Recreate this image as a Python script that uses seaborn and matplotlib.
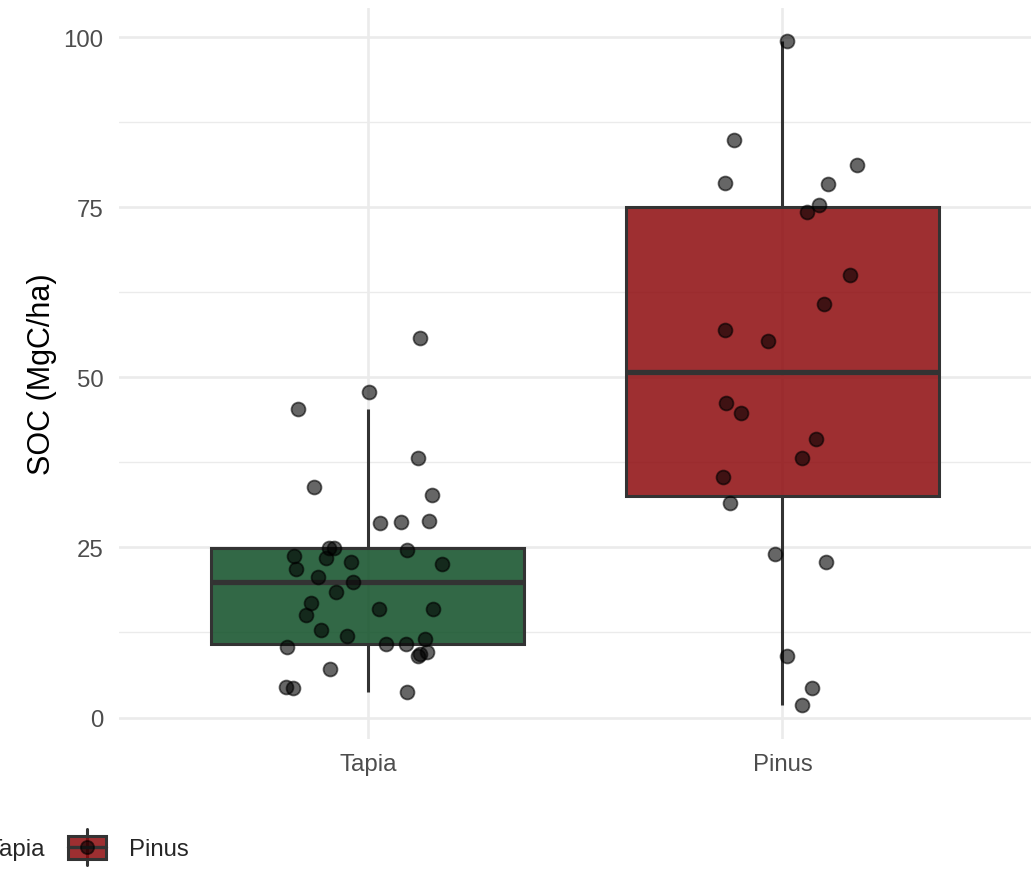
import numpy as np
import pandas as pd
import matplotlib
matplotlib.use("Agg")
import matplotlib.pyplot as plt
import seaborn as sns
from matplotlib.ticker import MultipleLocator
from matplotlib.legend_handler import HandlerBase
from matplotlib.lines import Line2D
from matplotlib.patches import Rectangle, Patch

# ---------------- data ----------------
groups = ["Tapia", "Pinus"]

tapia_soc = [55.75, 47.8, 45.3, 38.2, 33.9, 32.7, 28.6, 28.8, 28.9, 24.9,
             24.9, 23.7, 23.5, 22.9, 24.6, 22.5, 21.8, 20.7, 19.9, 18.4,
             16.8, 15.1, 15.9, 16.0, 12.8, 12.0, 10.3, 10.8, 10.8, 11.6,
             9.1, 9.6, 9.3, 7.2, 4.5, 4.3, 3.8]
tapia_jitter = [0.126, 0.002, -0.169, 0.121, -0.130, 0.155, 0.029, 0.080, 0.147, -0.094,
                -0.082, -0.179, -0.101, -0.041, 0.094, 0.179, -0.174, -0.121, -0.036, -0.077,
                -0.138, -0.150, 0.027, 0.157, -0.114, -0.051, -0.196, 0.043, 0.092, 0.138,
                0.121, 0.143, 0.126, -0.092, -0.198, -0.181, 0.094]

pinus_soc = [99.5, 84.9, 78.6, 81.3, 78.4, 75.4, 74.3, 65.0, 60.8, 57.0, 55.3,
             46.3, 44.8, 40.9, 38.2, 35.3, 31.6, 24.1, 22.8, 9.0, 4.4, 1.8]
pinus_jitter = [0.012, -0.118, -0.138, 0.179, 0.109, 0.089, 0.058, 0.162, 0.099, -0.138, -0.034,
                -0.135, -0.101, 0.082, 0.046, -0.143, -0.126, -0.017, 0.104, 0.012, 0.072, 0.048]

y_label = "SOC (MgC/ha)"
y_ticks = [0, 25, 50, 75, 100]

colors = {"Tapia": "#0E4E25", "Pinus": "#8D0A0D"}
box_alpha = 0.85
edge = "#333333"

df = pd.DataFrame({
    "group": ["Tapia"] * len(tapia_soc) + ["Pinus"] * len(pinus_soc),
    "soc": tapia_soc + pinus_soc,
    "jit": tapia_jitter + pinus_jitter,
})
df["xpos"] = df["group"].map({g: i for i, g in enumerate(groups)}) + df["jit"]

# ---------------- style ----------------
sns.set_style("white")
plt.rcParams["font.family"] = ["Liberation Sans", "DejaVu Sans"]

fig = plt.figure(figsize=(10.32, 8.70), dpi=100)
ax = fig.add_axes([0.1153, 0.150, 0.884, 0.8402])

sns.boxplot(data=df, x="group", y="soc", hue="group", order=groups, hue_order=groups,
            palette=colors, saturation=1, width=0.754, showfliers=False, showcaps=False,
            whis=1.5, linewidth=2.2, linecolor=edge, legend=False, dodge=False,
            medianprops={"linewidth": 3.8, "color": edge},
            whiskerprops={"linewidth": 2.2, "color": edge},
            ax=ax, zorder=2)
for p in ax.patches:
    fc = p.get_facecolor()
    p.set_facecolor((fc[0], fc[1], fc[2], box_alpha))

sns.scatterplot(data=df, x="xpos", y="soc", ax=ax, s=100,
                color=(0, 0, 0, 0.6), edgecolor=(0, 0, 0, 0.6), linewidth=1.3,
                legend=False, zorder=4)

ymin, ymax = min(df["soc"]), max(df["soc"])
rng = ymax - ymin
ax.set_xlim(-0.6, 1.6)
ax.set_ylim(ymin - 0.05 * rng, ymax + 0.05 * rng)
ax.set_xticks(range(len(groups)))
ax.set_xticklabels(groups)
ax.set_yticks(y_ticks)
ax.yaxis.set_minor_locator(MultipleLocator(12.5))
ax.set_axisbelow(True)
ax.grid(which="major", axis="both", color="#EBEBEB", linewidth=1.9)
ax.grid(which="minor", axis="y", color="#EBEBEB", linewidth=1.0)
for s in ax.spines.values():
    s.set_visible(False)
ax.tick_params(axis="both", which="both", length=0, labelsize=17.3, labelcolor="#4D4D4D")
ax.tick_params(axis="y", pad=11)
ax.tick_params(axis="x", pad=10.5)
ax.set_xlabel("")
ax.set_ylabel(y_label, fontsize=22, color="black")
ax.yaxis.set_label_coords(-0.068, 0.5)


# ---------------- legend ----------------
class BoxKey(HandlerBase):
    def create_artists(self, legend, orig_handle, xdescent, ydescent, width, height, fontsize, trans):
        x0, y0 = -xdescent, -ydescent
        cx, cy = x0 + width / 2, y0 + height / 2
        ext = height * 0.3
        whisk = Line2D([cx, cx], [y0 - ext, y0 + height + ext], color=edge, lw=2.2, transform=trans)
        rect = Rectangle((x0, y0), width, height, facecolor=orig_handle.get_facecolor(),
                         edgecolor=edge, lw=2.2, transform=trans)
        med = Line2D([x0, x0 + width], [cy, cy], color=edge, lw=2.4, transform=trans)
        pt = Line2D([cx], [cy], marker="o", ms=9.5, ls="", mfc=(0, 0, 0, 0.6),
                    mec=(0, 0, 0, 0.6), mew=1.3, transform=trans)
        return [whisk, rect, med, pt]


handles = [Patch(facecolor=(*matplotlib.colors.to_rgb(colors[g]), box_alpha), label=g) for g in groups]
fig.legend(handles=handles, labels=groups, handler_map={Patch: BoxKey()},
           loc="center left", bbox_to_anchor=(-74 / 1032, 0.0241), bbox_transform=fig.transFigure,
           ncol=2, frameon=False, fontsize=17.3, handlelength=1.6, handleheight=1.08,
           handletextpad=0.95, columnspacing=0.96, borderpad=0, borderaxespad=0)

fig.savefig("out.png", dpi=100)
